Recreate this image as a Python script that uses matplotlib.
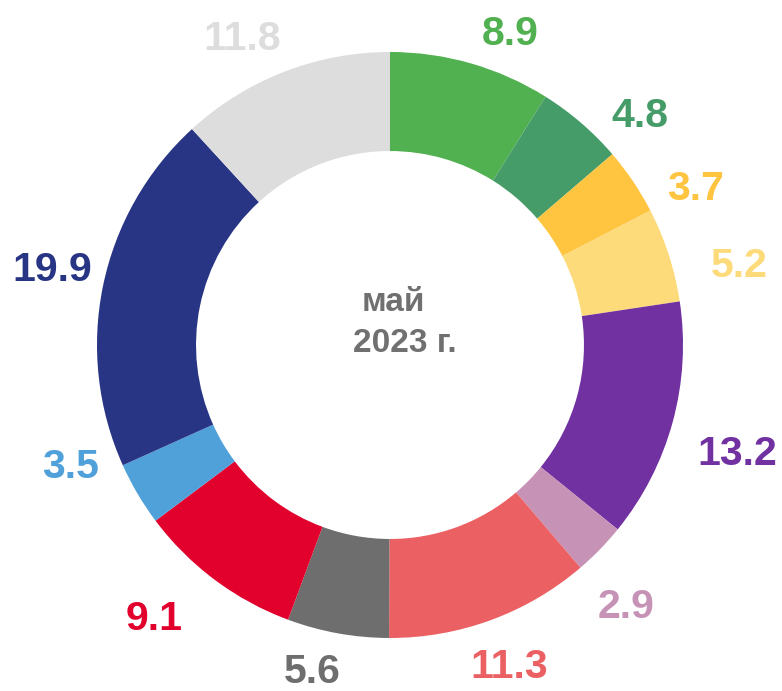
import matplotlib.pyplot as plt
import numpy as np

values = [8.9, 4.8, 3.7, 5.2, 13.2, 2.9, 11.3, 5.6, 9.1, 3.5, 19.9, 11.8]
labels = [f'{v:.1f}' for v in values]
colors = ['#51B050', '#459C68', '#FFC440', '#FDDB7A', '#7131A0', '#C693B6',
          '#EB6063', '#6E6E6E', '#E2002C', '#50A0DA', '#283584', '#DDDDDD']
center_lines = ['май', '2023 г.']

# label placement tweaks: turn in degrees from wedge middle, distance in outer radii
label_turn = [-4.9, -6.3, -6.4, -4.6, -1.7, -3.4, 0.3, -3.2, -4.3, -10.2, -1.5, 4.2]
label_dist = [1.150, 1.167, 1.177, 1.225, 1.239, 1.195, 1.160, 1.135, 1.225, 1.164, 1.184, 1.170]

fig = plt.figure(figsize=(7.82, 6.91), dpi=100)
ax = fig.add_axes([0, 0, 1, 1])

R = 293
cx, cy = 390, 346
wedges, _ = ax.pie(values, colors=colors, startangle=90, counterclock=False,
                   radius=R, center=(cx, cy),
                   wedgeprops=dict(width=R * 0.338, linewidth=0))

fs = 29.5
digit_h = 0.716 * fs * 100 / 72
for w, lab, col, turn, dist in zip(wedges, labels, colors, label_turn, label_dist):
    ang = np.deg2rad((w.theta1 + w.theta2) / 2 + turn)
    ax.text(cx + dist * R * np.cos(ang), cy + dist * R * np.sin(ang) - digit_h / 2, lab,
            ha='center', va='baseline', color=col, fontsize=fs, fontweight='bold',
            family='Liberation Sans')

ax.text(cx + 3, cy + 34, center_lines[0], ha='center', va='baseline', color='#707070',
        fontsize=24, fontweight='bold', family='Liberation Sans')
ax.text(cx + 15, cy - 7, center_lines[1], ha='center', va='baseline', color='#707070',
        fontsize=24, fontweight='bold', family='Liberation Sans')

ax.set_xlim(0, 782)
ax.set_ylim(0, 691)
ax.set_aspect('equal')
ax.axis('off')

fig.savefig('out.png', dpi=100)
